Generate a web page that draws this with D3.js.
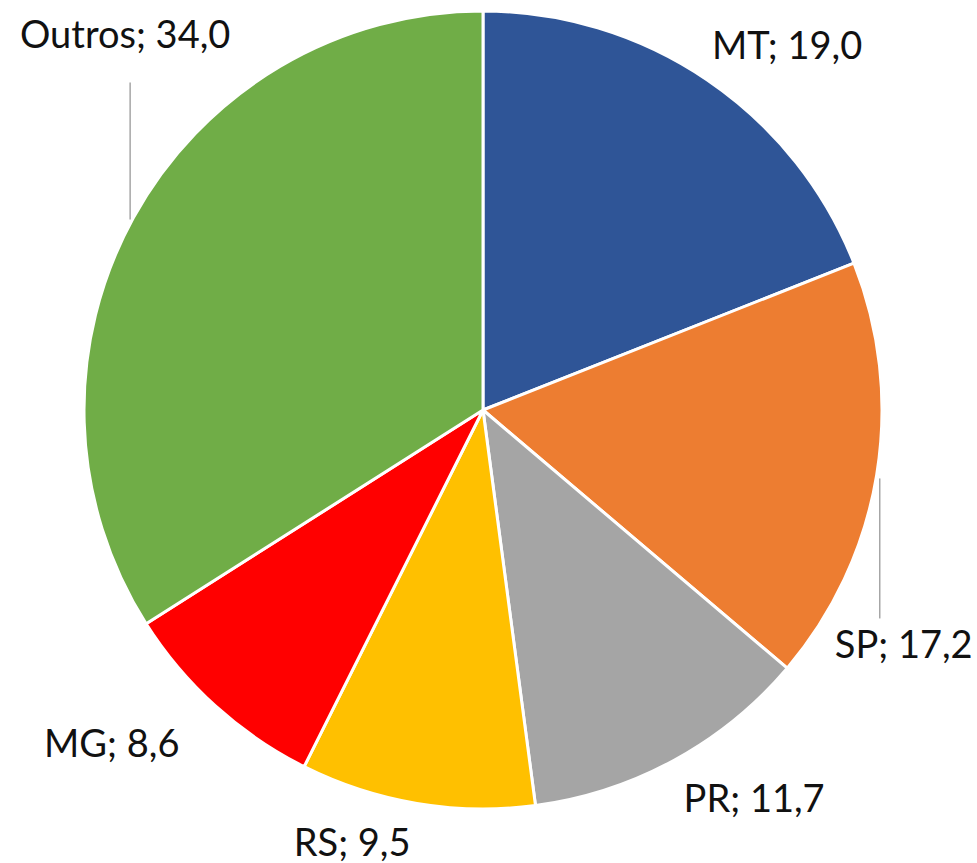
<!DOCTYPE html>
<html>
<head>
<meta charset="utf-8">
<script src="https://cdn.jsdelivr.net/npm/d3@7"></script>
<style>
  html, body { margin: 0; padding: 0; background: #fff; }
  svg { display: block; }
</style>
</head>
<body>
<svg id="chart" width="977" height="863"></svg>
<script>
// ---- data ----
const categories = ["MT", "SP", "PR", "RS", "MG", "Outros"];
const values = [19.0, 17.2, 11.7, 9.5, 8.6, 34.0];
const colors = ["#2F5597", "#ED7D31", "#A5A5A5", "#FFC000", "#FF0000", "#70AD47"];

// ---- layout (label nudges from the outer label arc, leader lines) ----
const labelNudge = {
  MT: [40, 38], SP: [-43, 172], PR: [46, -11],
  RS: [-53, -17], MG: [-56, -2], Outros: [54, -136]
};
// leader line: [dx, dy1, dy2] relative to label anchor (x center, baseline)
const leaders = {
  SP: [-24, -180, -40],
  Outros: [5, 35, 172]
};

const W = 977, H = 863;
const cx = 483, cy = 410, R = 399, labelR = 470;
const fmt = v => v.toFixed(1).replace(".", ",");

const svg = d3.select("#chart");
const g = svg.append("g").attr("transform", `translate(${cx},${cy})`);

const data = categories.map((c, i) => ({ name: c, value: values[i], color: colors[i] }));
const pie = d3.pie().value(d => d.value).sort(null);
const arcs = pie(data);
const arc = d3.arc().innerRadius(0).outerRadius(R);
const labelArc = d3.arc().innerRadius(labelR).outerRadius(labelR);

g.selectAll("path.slice")
  .data(arcs)
  .join("path")
  .attr("class", "slice")
  .attr("d", arc)
  .attr("fill", d => d.data.color)
  .attr("stroke", "#fff")
  .attr("stroke-width", 3)
  .attr("stroke-linejoin", "round");

const labelPos = d => {
  const [x, y] = labelArc.centroid(d);
  const n = labelNudge[d.data.name] || [0, 0];
  return [x + n[0], y + n[1]];
};

// leader lines
g.selectAll("line.leader")
  .data(arcs.filter(d => leaders[d.data.name]))
  .join("line")
  .attr("class", "leader")
  .attr("x1", d => labelPos(d)[0] + leaders[d.data.name][0])
  .attr("x2", d => labelPos(d)[0] + leaders[d.data.name][0])
  .attr("y1", d => labelPos(d)[1] + leaders[d.data.name][1])
  .attr("y2", d => labelPos(d)[1] + leaders[d.data.name][2])
  .attr("stroke", "#A6A6A6")
  .attr("stroke-width", 1.5);

g.selectAll("text.lbl")
  .data(arcs)
  .join("text")
  .attr("class", "lbl")
  .attr("x", d => labelPos(d)[0])
  .attr("y", d => labelPos(d)[1])
  .attr("text-anchor", "middle")
  .attr("font-family", "Lato, 'Open Sans', sans-serif")
  .attr("font-size", 38)
  .attr("fill", "#111")
  .text(d => `${d.data.name}; ${fmt(d.data.value)}`);
</script>
</body>
</html>
